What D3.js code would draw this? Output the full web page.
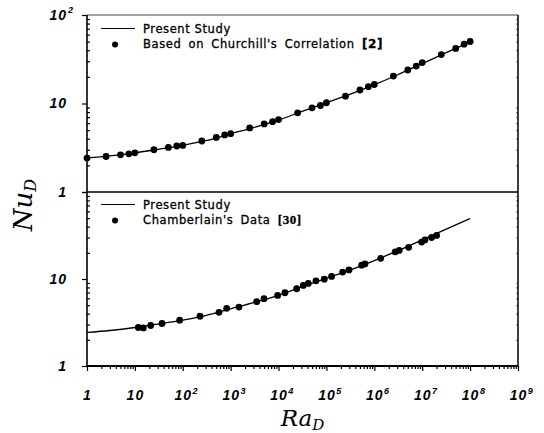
<!DOCTYPE html>
<html>
<head>
<meta charset="utf-8">
<script src="https://cdn.jsdelivr.net/npm/d3@7"></script>
<style>
    body { margin: 0; background: #fff; }
    svg { display: block; }
</style>
</head>
<body>
<div id="chart"></div>
<script>
// Present Study curve (same in both panels)
const presentRa = [1, 3, 10, 30, 100, 300, 1e3, 3e3, 1e4, 3e4, 1e5, 3e5, 1e6, 3e6, 1e7, 3e7, 1e8];
const presentNu = [2.43, 2.56, 2.77, 3.03, 3.37, 3.80, 4.55, 5.35, 6.5, 8.1, 10.2, 12.6, 16.3, 21.0, 28.2, 37.0, 49.5];

// upper panel: Churchill's correlation [2]
const churchillRa = [1, 2.5, 5, 7.5, 10, 25, 50, 75, 100, 250, 500, 750, 1e3, 2.5e3, 5e3, 7.5e3,
    1e4, 2.5e4, 5e4, 7.5e4, 1e5, 2.5e5, 5e5, 7.5e5, 1e6, 2.5e6, 5e6, 7.5e6, 1e7, 2.5e7, 5e7, 7.5e7, 1e8];
const churchillNu = [2.42, 2.52, 2.63, 2.70, 2.77, 3.0, 3.19, 3.31, 3.36, 3.77, 4.14, 4.41, 4.56, 5.29, 5.88, 6.24,
    6.58, 7.84, 8.93, 9.49, 10.2, 12.1, 14.2, 15.5, 16.4, 20.4, 23.9, 26.5, 29.0, 35.7, 41.9, 46.8, 50.2];

// lower panel: Chamberlain's data [30]
const chamberlainRa = [11.8, 15, 21.4, 36.8, 86, 229, 570, 825, 1490, 3490, 4960, 9570, 13600, 23900, 32800,
    41700, 60400, 90000, 128000, 218000, 295000, 543000, 637000, 1.36e6, 2.73e6, 3.31e6, 5.2e6, 9.71e6,
    1.14e7, 1.57e7, 2.0e7];
const chamberlainNu = [2.77, 2.74, 2.92, 3.08, 3.36, 3.73, 4.14, 4.60, 4.76, 5.49, 5.94, 6.48, 6.95, 7.73, 8.43,
    8.89, 9.53, 9.95, 10.7, 12.0, 12.7, 14.4, 14.9, 17.3, 20.5, 21.3, 23.1, 26.6,
    28.1, 30.0, 31.7];

// ticks
const xTicks = [1, 10, 1e2, 1e3, 1e4, 1e5, 1e6, 1e7, 1e8, 1e9];
const xTickLabels = ["1", "10", "10^2", "10^3", "10^4", "10^5", "10^6", "10^7", "10^8", "10^9"];
const yTicks = [1, 10, 100];
const yTopLabels = ["1", "10", "10^2"];
const yBottomLabels = ["1", "10", ""];

const width = 544, height = 433;
const pLeft = 87, pRight = 518, pTop = 15, pMid = 192, pBottom = 366;

const svg = d3.select('#chart')
    .append('svg')
    .attr('width', width)
    .attr('height', height);

const x = d3.scaleLog().domain([1, 1e9]).range([pLeft, pRight]);
const yTop = d3.scaleLog().domain([1, 100]).range([pMid, pTop]);
const yBottom = d3.scaleLog().domain([1, 100]).range([pBottom, pMid]);

function minorTicks(domain) {
    const out = [];
    for (let d = domain[0]; d < domain[1]; d *= 10) {
        for (let k = 2; k <= 9; k++) out.push(d * k);
    }
    return out;
}

const tickFont = "'Liberation Sans', Arial, sans-serif";

function labelTick(sel, labels, values, horizontal) {
    sel.selectAll('.tick').each(function(d) {
        const i = values.indexOf(d);
        const g = d3.select(this);
        g.select('text').remove();
        if (i < 0 || !labels[i]) return;
        const parts = labels[i].split('^');
        const t = g.append('text')
            .attr('fill', '#000')
            .style('font-family', tickFont)
            .style('font-style', 'italic')
            .style('font-weight', 'bold')
            .style('font-size', '14px')
            .style('letter-spacing', '1px')
            .text(parts[0]);
        let bw = parts[0].length * 8.8;
        if (horizontal) {
            t.attr('x', 0).attr('y', 24).attr('dy', '0.71em').attr('text-anchor', 'middle');
            if (parts[1]) {
                g.append('text')
                    .attr('x', bw / 2 + 3).attr('y', 24).attr('dy', '0.45em')
                    .attr('fill', '#000')
                    .style('font-family', tickFont)
                    .style('font-style', 'italic')
                    .style('font-weight', 'bold')
                    .style('font-size', '9px')
                    .text(parts[1]);
            }
        } else {
            t.attr('x', -20).attr('y', 0).attr('dy', '0.32em').attr('text-anchor', 'end');
            if (parts[1]) {
                g.append('text')
                    .attr('x', -14).attr('y', -3)
                    .attr('fill', '#000')
                    .style('font-family', tickFont)
                    .style('font-style', 'italic')
                    .style('font-weight', 'bold')
                    .style('font-size', '9px')
                    .text(parts[1]);
            }
        }
    });
}

function drawPanel(yScale, labels) {
    // major ticks outward with labels
    const major = svg.append('g')
        .attr('transform', `translate(${pLeft}, 0)`)
        .call(d3.axisLeft(yScale).tickValues(yTicks).tickSize(5).tickFormat(() => ''));
    major.select('.domain').remove();
    labelTick(major, labels, yTicks, false);

    // minor ticks inward
    const minor = svg.append('g')
        .attr('transform', `translate(${pLeft}, 0)`)
        .call(d3.axisLeft(yScale).tickValues(minorTicks([1, 100])).tickSize(-3).tickFormat(() => ''));
    minor.select('.domain').remove();

    // right side minor ticks, faint
    const rminor = svg.append('g')
        .attr('transform', `translate(${pRight}, 0)`)
        .call(d3.axisRight(yScale).tickValues(minorTicks([1, 100])).tickSize(-2).tickFormat(() => ''));
    rminor.select('.domain').remove();
    rminor.selectAll('line').attr('stroke', '#888');
}

drawPanel(yTop, yTopLabels);
drawPanel(yBottom, yBottomLabels);

// x axis
const xMajor = svg.append('g')
    .attr('transform', `translate(0, ${pBottom})`)
    .call(d3.axisBottom(x).tickValues(xTicks).tickSize(5).tickFormat(() => ''));
xMajor.select('.domain').remove();
labelTick(xMajor, xTickLabels, xTicks, true);

const xMinor = svg.append('g')
    .attr('transform', `translate(0, ${pBottom})`)
    .call(d3.axisBottom(x).tickValues(minorTicks([1, 1e9])).tickSize(3).tickFormat(() => ''));
xMinor.select('.domain').remove();

svg.selectAll('.tick line').attr('stroke-width', 1.2);

// frame
svg.append('line').attr('x1', pLeft).attr('x2', pRight).attr('y1', pTop).attr('y2', pTop)
    .attr('stroke', '#444').attr('stroke-width', 1);
svg.append('line').attr('x1', pLeft).attr('x2', pRight).attr('y1', pMid).attr('y2', pMid)
    .attr('stroke', '#000').attr('stroke-width', 1.3);
svg.append('line').attr('x1', pLeft - 1).attr('x2', pRight).attr('y1', pBottom).attr('y2', pBottom)
    .attr('stroke', '#000').attr('stroke-width', 1.8);
svg.append('line').attr('x1', pLeft).attr('x2', pLeft).attr('y1', pTop).attr('y2', pBottom)
    .attr('stroke', '#000').attr('stroke-width', 1.6);
svg.append('line').attr('x1', pRight).attr('x2', pRight).attr('y1', pTop).attr('y2', pBottom + 1)
    .attr('stroke', '#000').attr('stroke-width', 1.5);

// curves and points
const present = presentRa.map((r, i) => ({ra: r, nu: presentNu[i]}));

function drawSeries(yScale, ra, nu) {
    const line = d3.line()
        .x(d => x(d.ra))
        .y(d => yScale(d.nu))
        .curve(d3.curveMonotoneX);

    svg.append('path')
        .datum(present)
        .attr('d', line)
        .attr('fill', 'none')
        .attr('stroke', '#000')
        .attr('stroke-width', 1.3);

    svg.append('g')
        .selectAll('circle')
        .data(ra.map((r, i) => ({ra: r, nu: nu[i]})))
        .enter()
        .append('circle')
        .attr('cx', d => x(d.ra))
        .attr('cy', d => yScale(d.nu))
        .attr('r', 3.4)
        .attr('fill', '#000');
}

drawSeries(yTop, churchillRa, churchillNu);
drawSeries(yBottom, chamberlainRa, chamberlainNu);

// legends
const legendFont = "'DejaVu Sans', Verdana, sans-serif";

function legend(y0, label2, ref) {
    svg.append('line')
        .attr('x1', 101).attr('x2', 135).attr('y1', y0 - 4).attr('y2', y0 - 4)
        .attr('stroke', '#000').attr('stroke-width', 1.2);
    svg.append('text')
        .attr('x', 143).attr('y', y0)
        .style('font-family', legendFont).style('font-size', '11.5px')
        .style('letter-spacing', '0.6px')
        .attr('stroke', '#000').attr('stroke-width', 0.3)
        .text('Present Study');
    svg.append('circle')
        .attr('cx', 115).attr('cy', y0 + 12).attr('r', 3).attr('fill', '#000');
    const t = svg.append('text')
        .attr('x', 143).attr('y', y0 + 15.5)
        .style('font-family', legendFont).style('font-size', '11.5px')
        .style('letter-spacing', '0.6px')
        .style('word-spacing', '3px')
        .attr('stroke', '#000').attr('stroke-width', 0.3)
        .attr('xml:space', 'preserve')
        .text(label2);
    t.append('tspan')
        .style('font-family', ref.serif ? "'Liberation Serif', serif" : legendFont)
        .style('font-size', ref.serif ? '13px' : '12px')
        .style('font-weight', 'bold')
        .text(ref.text);
}

legend(32.5, "Based on Churchill's Correlation ", {text: '[2]', serif: false});
legend(208.5, "Chamberlain's Data ", {text: '[30]', serif: true});

// axis titles
const titleFont = "'DejaVu Serif', 'Liberation Serif', serif";

const xt = svg.append('text')
    .attr('x', (pLeft + pRight) / 2)
    .attr('y', 426)
    .attr('text-anchor', 'middle')
    .style('font-family', titleFont)
    .style('font-style', 'italic')
    .style('font-size', '23px')
    .text('Ra');
xt.append('tspan').attr('dy', 4).style('font-size', '15px').text('D');

const yt = svg.append('text')
    .attr('transform', 'translate(32, 205) rotate(-90)')
    .attr('text-anchor', 'middle')
    .style('font-family', titleFont)
    .style('font-style', 'italic')
    .style('font-size', '26px')
    .text('Nu');
yt.append('tspan').attr('dy', 4).style('font-size', '16px').text('D');
</script>
</body>
</html>
